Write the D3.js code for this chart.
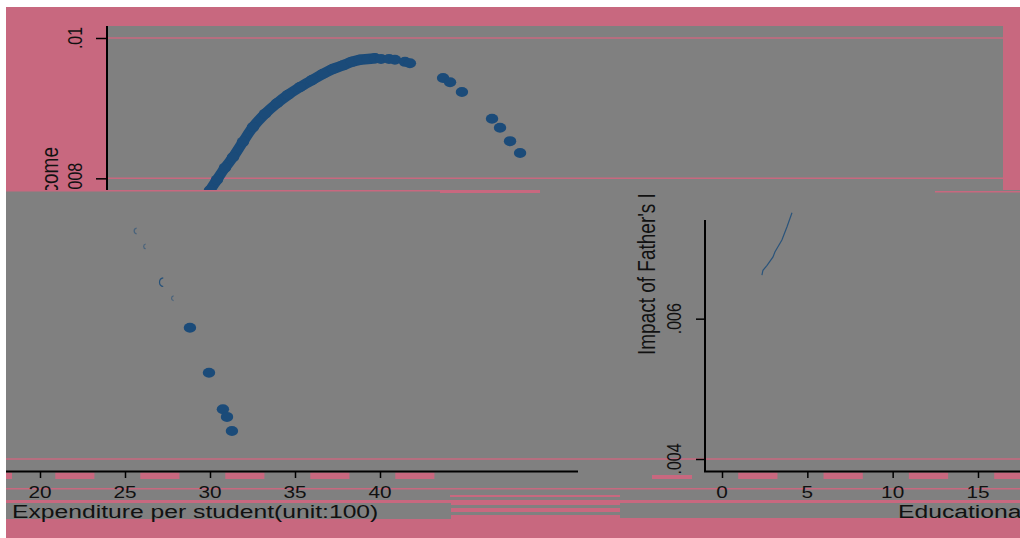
<!DOCTYPE html>
<html>
<head>
<meta charset="utf-8">
<script src="https://cdn.jsdelivr.net/npm/d3@7"></script>
<style>
  body { margin: 0; background: #fff; }
  svg { display: block; font-family: "Liberation Sans", Arial, sans-serif; }
</style>
</head>
<body>
<svg id="chart" width="1020" height="538"></svg>
<script>
// expenditure per student (unit:100) vs impact of father's income
// dense part of the upper curve
const curveDense = [
  [29.6, .00770], [30.0, .00783], [30.41, .00798], [30.88, .00815], [31.35, .00830],
  [31.94, .00852], [32.53, .00873], [33.24, .00892], [33.94, .00907], [34.59, .00919],
  [35.29, .00930], [36.0, .00940], [36.65, .00949], [37.24, .00956], [37.82, .00961],
  [38.35, .00966], [38.82, .00969], [39.29, .00970], [39.71, .00971]
];
// separate points after the peak
const curveSparse = [
  [40.06, .00970], [40.53, .00970], [40.88, .00969], [41.47, .00966], [41.76, .00964],
  [43.71, .00943], [44.12, .00937], [44.82, .00923],
  [46.59, .00885], [47.06, .00872], [47.65, .00853], [48.24, .00836]
];
// lower left block
const lowerPoints = [
  [28.82, .00587], [29.94, .00523], [30.76, .00471], [31.0, .00460], [31.29, .00440]
];
const lowerGhosts = [
  [25.71, .00725, 3.5], [26.24, .00703, 3], [27.29, .00652, 5], [27.88, .00629, 3]
];
// educational years vs impact (right block)
const eduLine = [
  [2.34, .00662], [2.40, .00669], [2.64, .00676], [2.99, .00688],
  [3.10, .00695], [3.51, .00712], [3.81, .00731], [4.10, .00751]
];

const topTicks = [.008, .01];
const rightTicks = [.004, .006];
const expTicks = [20, 25, 30, 35, 40];
const eduTicks = [0, 5, 10, 15];

const PINK = '#c8687f', GRAY = '#808080', BLUE = '#1b4b79';
const SX = 1.3; // horizontal stretch of the picture

const svg = d3.select('#chart');

const x = d3.scaleLinear().domain([20, 40]).range([40, 380]);
const xR = d3.scaleLinear().domain([0, 15]).range([722, 978]);
const y = d3.scaleLinear().domain([.004, .01]).range([459, 38]);
const fmt = d => d3.format('.3~f')(d).replace(/^0/, '');

// clip regions
const defs = svg.append('defs');
function clip(id, x0, y0, w, h) {
  defs.append('clipPath').attr('id', id)
    .append('rect').attr('x', x0).attr('y', y0).attr('width', w).attr('height', h);
}
clip('cTop', 107, 26, 896, 164);
clip('cTopLabel', 0, 0, 107, 190);
clip('cLow', 6, 191, 1014, 280);
clip('cRightLabel', 600, 192, 105, 280);
clip('cAll', 0, 0, 1020, 538);

// backgrounds
svg.append('rect').attr('x', 6).attr('y', 7).attr('width', 1014).attr('height', 531).attr('fill', PINK);
svg.append('rect').attr('x', 107).attr('y', 26).attr('width', 896).attr('height', 164).attr('fill', GRAY);
svg.append('rect').attr('x', 6).attr('y', 190).attr('width', 1014).attr('height', 310).attr('fill', GRAY);

// glitch strips along the bottom
svg.append('rect').attr('x', 6).attr('y', 500).attr('width', 1014).attr('height', 38).attr('fill', PINK);
svg.append('rect').attr('x', 6).attr('y', 503).attr('width', 445).attr('height', 16).attr('fill', GRAY);
svg.append('rect').attr('x', 451).attr('y', 505).attr('width', 169).attr('height', 3).attr('fill', GRAY);
svg.append('rect').attr('x', 451).attr('y', 512).attr('width', 169).attr('height', 3).attr('fill', GRAY);
svg.append('rect').attr('x', 620).attr('y', 503).attr('width', 400).attr('height', 15).attr('fill', GRAY);
svg.append('rect').attr('x', 6).attr('y', 488).attr('width', 1014).attr('height', 1.5).attr('fill', PINK);
svg.append('rect').attr('x', 450).attr('y', 495).attr('width', 170).attr('height', 2).attr('fill', PINK);
svg.append('rect').attr('x', 6).attr('y', 190).attr('width', 534).attr('height', 1.5).attr('fill', PINK);
svg.append('rect').attr('x', 440).attr('y', 190).attr('width', 100).attr('height', 3).attr('fill', PINK);
svg.append('rect').attr('x', 935).attr('y', 191).attr('width', 85).attr('height', 1.5).attr('fill', PINK);

// pink dashes just under the x axes, one per tick interval
svg.selectAll('.dashL').data(expTicks).enter().append('rect')
  .attr('x', d => x(d + 0.9)).attr('y', 472.5)
  .attr('width', d => x(d + 3.2) - x(d + 0.9)).attr('height', 6.5).attr('fill', PINK);
svg.selectAll('.dashR').data(eduTicks).enter().append('rect')
  .attr('x', d => xR(d + 0.95)).attr('y', 472.5)
  .attr('width', d => xR(d + 3.25) - xR(d + 0.95)).attr('height', 6.5).attr('fill', PINK);
svg.append('rect').attr('x', 6).attr('y', 472.5).attr('width', 6).attr('height', 6.5).attr('fill', PINK);
svg.append('rect').attr('x', 652).attr('y', 475).attr('width', 40).attr('height', 4).attr('fill', PINK);

// gridlines
svg.append('g').selectAll('line').data(topTicks).enter().append('line')
  .attr('x1', 107).attr('x2', 1003).attr('y1', d => y(d)).attr('y2', d => y(d))
  .attr('stroke', PINK).attr('stroke-width', 1.5);
svg.append('line').attr('x1', 6).attr('x2', 1020)
  .attr('y1', y(.004)).attr('y2', y(.004)).attr('stroke', PINK).attr('stroke-width', 1.5);

// upper curve
const gTop = svg.append('g').attr('clip-path', 'url(#cTop)');
gTop.append('path').datum(curveDense)
  .attr('d', d3.line().x(d => x(d[0])).y(d => y(d[1])).curve(d3.curveCatmullRom))
  .attr('fill', 'none').attr('stroke', BLUE).attr('stroke-width', 10.5).attr('stroke-linecap', 'round');
gTop.selectAll('ellipse').data(curveDense.concat(curveSparse)).enter().append('ellipse')
  .attr('cx', d => x(d[0])).attr('cy', d => y(d[1]))
  .attr('rx', 6.2).attr('ry', 5).attr('fill', BLUE);

// lower left points
const gLow = svg.append('g').attr('clip-path', 'url(#cLow)');
gLow.selectAll('ellipse').data(lowerPoints).enter().append('ellipse')
  .attr('cx', d => x(d[0])).attr('cy', d => y(d[1]))
  .attr('rx', 6.2).attr('ry', 5).attr('fill', BLUE);
gLow.selectAll('.ghost').data(lowerGhosts).enter().append('path')
  .attr('transform', d => `translate(${x(d[0])},${y(d[1])})`)
  .attr('d', d => d3.arc().innerRadius(d[2] - 1.2).outerRadius(d[2])
    .startAngle(Math.PI * 1.05).endAngle(Math.PI * 1.95)())
  .attr('fill', BLUE).attr('opacity', d => d[2] > 4 ? 0.9 : 0.55);

// right block thin line
svg.append('path').datum(eduLine)
  .attr('d', d3.line().x(d => xR(d[0])).y(d => y(d[1])))
  .attr('fill', 'none').attr('stroke', BLUE).attr('stroke-width', 1.2).attr('opacity', 0.85);

// axes
svg.append('line').attr('x1', 107).attr('x2', 107).attr('y1', 26).attr('y2', 190)
  .attr('stroke', '#000').attr('stroke-width', 2);
svg.append('g').attr('transform', 'translate(107,0)')
  .call(d3.axisLeft(y).tickValues(topTicks).tickSize(11).tickFormat(''))
  .call(g => g.select('.domain').remove())
  .call(g => g.selectAll('line').attr('stroke', '#000').attr('stroke-width', 1.5));

svg.append('line').attr('x1', 705).attr('x2', 705).attr('y1', 220).attr('y2', 472)
  .attr('stroke', '#000').attr('stroke-width', 2);
svg.append('g').attr('transform', 'translate(705,0)')
  .call(d3.axisLeft(y).tickValues(rightTicks).tickSize(9).tickFormat(''))
  .call(g => g.select('.domain').remove())
  .call(g => g.selectAll('line').attr('stroke', '#000').attr('stroke-width', 1.5));

svg.append('line').attr('x1', 6).attr('x2', 578).attr('y1', 471.5).attr('y2', 471.5)
  .attr('stroke', '#000').attr('stroke-width', 2);
svg.append('g').attr('transform', 'translate(0,471)')
  .call(d3.axisBottom(x).tickValues(expTicks).tickSize(7).tickFormat(''))
  .call(g => g.select('.domain').remove())
  .call(g => g.selectAll('line').attr('stroke', '#000').attr('stroke-width', 1.5));

svg.append('line').attr('x1', 704).attr('x2', 1020).attr('y1', 471.5).attr('y2', 471.5)
  .attr('stroke', '#000').attr('stroke-width', 2);
svg.append('g').attr('transform', 'translate(0,471)')
  .call(d3.axisBottom(xR).tickValues(eduTicks).tickSize(7).tickFormat(''))
  .call(g => g.select('.domain').remove())
  .call(g => g.selectAll('line').attr('stroke', '#000').attr('stroke-width', 1.5));

// tick labels
const tl = svg.append('g').attr('fill', '#111');
tl.append('g').attr('clip-path', 'url(#cTopLabel)')
  .selectAll('text').data(topTicks).enter().append('text')
  .attr('transform', d => `translate(75,${y(d)}) scale(${SX},1) rotate(-90)`)
  .attr('text-anchor', 'middle').attr('dy', '0.35em').attr('font-size', 16).text(fmt);
tl.selectAll('.yr').data(rightTicks).enter().append('text')
  .attr('transform', d => `translate(674,${y(d)}) scale(${SX},1) rotate(-90)`)
  .attr('text-anchor', 'middle').attr('dy', '0.35em').attr('font-size', 16).text(fmt);
tl.selectAll('.xl').data(expTicks).enter().append('text')
  .attr('transform', d => `translate(${x(d)},498) scale(${SX},1)`)
  .attr('text-anchor', 'middle').attr('font-size', 16).text(d => d);
tl.selectAll('.xr').data(eduTicks).enter().append('text')
  .attr('transform', d => `translate(${xR(d)},498) scale(${SX},1)`)
  .attr('text-anchor', 'middle').attr('font-size', 16).text(d => d);

// axis titles
const yTitle = "Impact of Father's Income";
svg.append('g').attr('clip-path', 'url(#cTopLabel)')
  .append('text').attr('transform', `translate(49,147) scale(${SX},1) rotate(-90)`)
  .attr('text-anchor', 'end').attr('dy', '0.35em').attr('font-size', 19).attr('fill', '#111')
  .text(yTitle);
svg.append('g').attr('clip-path', 'url(#cRightLabel)')
  .append('text').attr('transform', `translate(646,355) scale(${SX},1) rotate(-90)`)
  .attr('text-anchor', 'start').attr('dy', '0.35em').attr('font-size', 19).attr('fill', '#111')
  .text(yTitle);
svg.append('text').attr('transform', `translate(12,518) scale(${SX},1)`)
  .attr('font-size', 19).attr('fill', '#111').text('Expenditure per student(unit:100)');
svg.append('g').attr('clip-path', 'url(#cAll)')
  .append('text').attr('transform', `translate(898,518) scale(${SX},1)`)
  .attr('font-size', 19).attr('fill', '#111').text('Educational years');
</script>
</body>
</html>
